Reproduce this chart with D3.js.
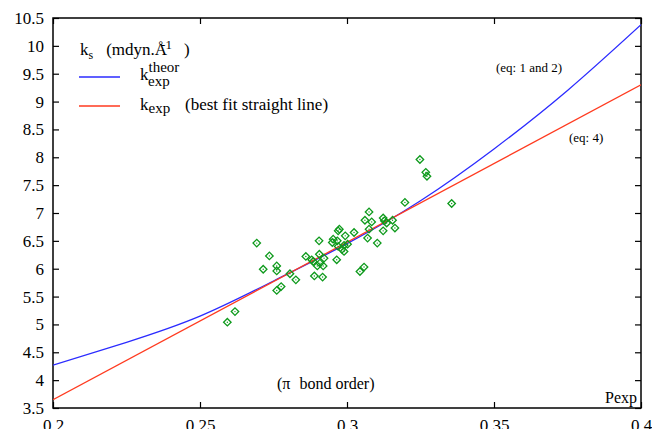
<!DOCTYPE html>
<html>
<head>
<meta charset="utf-8">
<script src="https://cdn.jsdelivr.net/npm/d3@7"></script>
<style>
  body { margin: 0; background: #fff; }
</style>
</head>
<body>
<script>
// tick values
const xTicks = [0.2, 0.25, 0.3, 0.35, 0.4];
const yTicks = [3.5, 4, 4.5, 5, 5.5, 6, 6.5, 7, 7.5, 8, 8.5, 9, 9.5, 10, 10.5];

// k theor (eq: 1 and 2)
const theorP = [0.2, 0.225, 0.25, 0.275, 0.3, 0.325, 0.35, 0.375, 0.4];
const theorK = [4.27, 4.68, 5.15, 5.78, 6.45, 7.22, 8.15, 9.2, 10.38];

// best fit straight line (eq: 4)
const fitP = [0.2, 0.4];
const fitK = [3.65, 9.3];

// experimental points
const expP = [0.3248, 0.3268, 0.3272, 0.3197, 0.3356, 0.3075, 0.3061, 0.3084, 0.3123, 0.3127,
  0.3155, 0.3135, 0.3163, 0.3123, 0.3075, 0.3070, 0.3103, 0.3024, 0.2974, 0.2970,
  0.2994, 0.2953, 0.2950, 0.2967, 0.2970, 0.3002, 0.2990, 0.2983, 0.2905, 0.2965,
  0.2693, 0.2736, 0.2715, 0.2761, 0.2761, 0.2806, 0.2826, 0.2776, 0.2761, 0.2619,
  0.2593, 0.2860, 0.2906, 0.2922, 0.2885, 0.2899, 0.2919, 0.2889, 0.2917, 0.3044,
  0.3058, 0.2908, 0.2880, 0.2990];
const expK = [7.96, 7.73, 7.66, 7.19, 7.17, 7.02, 6.87, 6.84, 6.91, 6.86,
  6.87, 6.82, 6.73, 6.68, 6.71, 6.55, 6.46, 6.65, 6.71, 6.68,
  6.59, 6.53, 6.47, 6.50, 6.40, 6.44, 6.31, 6.35, 6.50, 6.16,
  6.46, 6.23, 5.99, 6.05, 5.96, 5.91, 5.80, 5.68, 5.61, 5.23,
  5.04, 6.22, 6.26, 6.19, 6.13, 6.05, 6.05, 5.87, 5.85, 5.95,
  6.03, 6.10, 6.16, 6.42];

const width = 652, height = 429;
const margin = {left: 53, right: 11, top: 18, bottom: 21};
const serif = "'Liberation Serif', 'Times New Roman', serif";

const svg = d3.select("body").append("svg")
  .attr("width", width)
  .attr("height", height)
  .style("font-family", serif);

const x = d3.scaleLinear().domain([0.2, 0.4]).range([margin.left, width - margin.right]);
const y = d3.scaleLinear().domain([3.5, 10.5]).range([height - margin.bottom, margin.top]);

const blue = "#2b2bff";
const red = "#ff3a1f";
const green = "#0e9a1c";

svg.append("defs").append("clipPath").attr("id", "plot")
  .append("rect")
  .attr("x", x(0.2)).attr("y", y(10.5))
  .attr("width", x(0.4) - x(0.2)).attr("height", y(3.5) - y(10.5));

// axes, ticks pointing inward
const tickLen = 6;
svg.append("g")
  .attr("transform", `translate(0,${y(3.5)})`)
  .call(d3.axisBottom(x).tickValues(xTicks).tickSize(-tickLen).tickPadding(11).tickFormat(d3.format("")))
  .call(g => g.select(".domain").remove());
svg.append("g")
  .attr("transform", `translate(0,${y(10.5)})`)
  .call(d3.axisTop(x).tickValues(xTicks).tickSize(-tickLen).tickFormat(""))
  .call(g => g.select(".domain").remove());
svg.append("g")
  .attr("transform", `translate(${x(0.2)},0)`)
  .call(d3.axisLeft(y).tickValues(yTicks).tickSize(-tickLen).tickPadding(9).tickFormat(d3.format("")))
  .call(g => g.select(".domain").remove());
svg.append("g")
  .attr("transform", `translate(${x(0.4)},0)`)
  .call(d3.axisRight(y).tickValues(yTicks).tickSize(-tickLen).tickFormat(""))
  .call(g => g.select(".domain").remove());

svg.selectAll(".tick line").attr("stroke", "#000").attr("stroke-width", 1.2);
svg.selectAll(".tick text").attr("fill", "#000")
  .style("font-family", serif).style("font-size", "17px");

svg.append("rect")
  .attr("x", x(0.2)).attr("y", y(10.5))
  .attr("width", x(0.4) - x(0.2)).attr("height", y(3.5) - y(10.5))
  .attr("fill", "none").attr("stroke", "#000").attr("stroke-width", 1.5);

const plot = svg.append("g").attr("clip-path", "url(#plot)");

const line = d3.line().x(d => x(d[0])).y(d => y(d[1]));

plot.append("path")
  .datum(d3.zip(theorP, theorK))
  .attr("fill", "none").attr("stroke", blue).attr("stroke-width", 1.3)
  .attr("d", line.curve(d3.curveNatural));

plot.append("path")
  .datum(d3.zip(fitP, fitK))
  .attr("fill", "none").attr("stroke", red).attr("stroke-width", 1.3)
  .attr("d", line.curve(d3.curveLinear));

// points: open diamonds with a centre dot
const diamond = d3.symbol().type(d3.symbolSquare).size(28);
const pts = plot.append("g").selectAll("g")
  .data(d3.zip(expP, expK))
  .join("g")
  .attr("transform", d => `translate(${x(d[0])},${y(d[1])})`);
pts.append("path")
  .attr("d", diamond)
  .attr("transform", "rotate(45)")
  .attr("fill", "none").attr("stroke", green).attr("stroke-width", 1.3);
pts.append("circle").attr("r", 0.7).attr("fill", green);

// legend
const leg = svg.append("g").attr("font-size", 17).attr("fill", "#000");
const t1 = leg.append("text").attr("x", 80).attr("y", 55);
t1.append("tspan").text("k");
t1.append("tspan").attr("font-size", 12).attr("dy", 4).text("s");
t1.append("tspan").attr("dy", -4).attr("dx", 13).text("(mdyn.Å");
t1.append("tspan").attr("font-size", 13).attr("dy", -6).attr("dx", -6).text("-1");
t1.append("tspan").attr("dy", 6).attr("dx", 12).text(")");

leg.append("line").attr("x1", 79).attr("x2", 120).attr("y1", 77).attr("y2", 77)
  .attr("stroke", blue).attr("stroke-width", 1.3);
const t2 = leg.append("text").attr("x", 140).attr("y", 80);
t2.append("tspan").text("k");
t2.append("tspan").attr("font-size", 15).attr("dy", -8).text("theor");
t2.append("tspan").attr("x", 148).attr("font-size", 15).attr("dy", 14).text("exp");

leg.append("line").attr("x1", 79).attr("x2", 120).attr("y1", 106).attr("y2", 106)
  .attr("stroke", red).attr("stroke-width", 1.3);
const t3 = leg.append("text").attr("x", 140).attr("y", 110);
t3.append("tspan").text("k");
t3.append("tspan").attr("font-size", 15).attr("dy", 3).text("exp");
t3.append("tspan").attr("x", 185).attr("dy", -3).text("(best fit straight line)");

// annotations
svg.append("text").attr("x", 496).attr("y", 72).attr("font-size", 13).text("(eq: 1 and 2)");
svg.append("text").attr("x", 569).attr("y", 142).attr("font-size", 13).text("(eq: 4)");

const xl = svg.append("text").attr("x", 277).attr("y", 389).attr("font-size", 16);
xl.append("tspan").text("(π");
xl.append("tspan").attr("dx", 9).text("bond order)");
svg.append("text").attr("x", 637).attr("y", 403).attr("font-size", 16)
  .attr("text-anchor", "end").text("Pexp");
</script>
</body>
</html>
